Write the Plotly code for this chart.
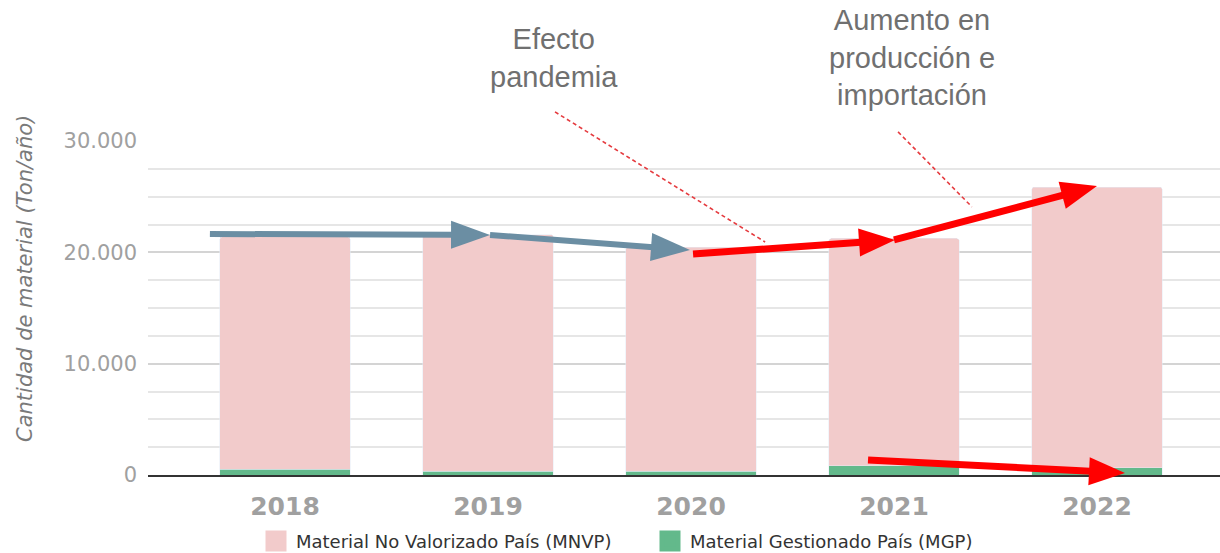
import math
import plotly.graph_objects as go

# ---- data ----
years = ["2018", "2019", "2020", "2021", "2022"]
mgp = [500, 330, 330, 840, 660]            # Material Gestionado País
totals = [21400, 21600, 20450, 21250, 25850]
mnvp = [t - g for t, g in zip(totals, mgp)]  # Material No Valorizado País

series_names = ["Material No Valorizado País (MNVP)", "Material Gestionado País (MGP)"]
y_tickvals = [0, 10000, 20000, 30000]

# ---- layout constants ----
W, H = 1220, 553
ML, MR, MT, MB = 148, 0, 141, 78
XR = [-0.675, 4.606]
YR = [0, 30000]
PW, PH = W - ML - MR, H - MT - MB

PINK = "#f2cbcb"
GREEN = "#63b98b"
GRAY_ARROW = "#6b8ea3"
RED = "#ff0000"


def to_paper(xd, yd):
    px = (xd - XR[0]) / (XR[1] - XR[0])
    py = (yd - YR[0]) / (YR[1] - YR[0])
    return px, py


def to_pix(xd, yd):
    px, py = to_paper(xd, yd)
    return px * PW, py * PH  # pixel offsets (y up)


def pix_to_paper(x, y):
    return x / PW, y / PH


fig = go.Figure()
fig.add_trace(go.Bar(x=years, y=mgp, name=series_names[1], marker_color=GREEN,
                     showlegend=False))
fig.add_trace(go.Bar(x=years, y=mnvp, name=series_names[0], marker_color=PINK,
                     showlegend=False))
# legend entries (bigger square swatches)
for nm, col in [(series_names[0], PINK), (series_names[1], GREEN)]:
    fig.add_trace(go.Scatter(x=[None], y=[None], mode="markers", name=nm,
                             marker=dict(symbol="square", size=16, color=col,
                                         line=dict(color=col, width=5))))

# ---- arrows (tail -> tip, in data coordinates) ----
arrows = [
    ((-0.37, 21650), (1.01, 21560), GRAY_ARROW, 6, 39, 14),
    ((1.01, 21560), (1.995, 20215), GRAY_ARROW, 6, 39, 14),
    ((2.01, 19855), (3.005, 21115), RED, 7, 36, 14),
    ((3.0, 21115), (4.0, 25950), RED, 7, 36, 14),
    ((2.872, 1347), (4.138, 180), RED, 7, 36, 14),
]
shapes = []
for (tx, ty), (hx, hy), col, w, hl, hw in arrows:
    x0, y0 = to_pix(tx, ty)
    x1, y1 = to_pix(hx, hy)
    d = math.hypot(x1 - x0, y1 - y0)
    ux, uy = (x1 - x0) / d, (y1 - y0) / d
    nx, ny = -uy, ux
    bx, by = x1 - ux * (hl - 2), y1 - uy * (hl - 2)
    p_t = pix_to_paper(x0, y0)
    p_b = pix_to_paper(bx, by)
    shapes.append(dict(type="line", xref="paper", yref="paper",
                       x0=p_t[0], y0=p_t[1], x1=p_b[0], y1=p_b[1],
                       line=dict(color=col, width=w)))
    hb_x, hb_y = x1 - ux * hl, y1 - uy * hl
    pts = [(x1, y1), (hb_x + nx * hw, hb_y + ny * hw), (hb_x - nx * hw, hb_y - ny * hw)]
    pp = [pix_to_paper(px, py) for px, py in pts]
    path = "M{:.5f},{:.5f} L{:.5f},{:.5f} L{:.5f},{:.5f} Z".format(
        pp[0][0], pp[0][1], pp[1][0], pp[1][1], pp[2][0], pp[2][1])
    shapes.append(dict(type="path", xref="paper", yref="paper", path=path,
                       fillcolor=col, line=dict(color=col, width=0)))

annotations = []
# ---- labels ----
annotations.append(dict(
    x=to_paper(1.323, 0)[0], y=1.0, xref="paper", yref="paper", yanchor="bottom",
    xanchor="center", text="Efecto<br>pandemia", showarrow=False, yshift=46,
    font=dict(family="Liberation Sans, Arial", size=29, color="#707070")))
annotations.append(dict(
    x=to_paper(3.088, 0)[0], y=1.0, xref="paper", yref="paper", yanchor="bottom",
    xanchor="center", text="Aumento en<br>producción e<br>importación", showarrow=False,
    yshift=28, font=dict(family="Liberation Sans, Arial", size=29, color="#707070")))
annotations.append(dict(
    x=-0.1147, y=0.587, xref="paper", yref="paper", textangle=-90,
    xanchor="center", yanchor="middle",
    text="<i>Cantidad de material (Ton/año)</i>", showarrow=False,
    font=dict(family="DejaVu Sans", size=21, color="#7a7a7a")))

# ---- dashed leader lines (data coords -> paper) ----
leaders = [((1.33, 32615), (2.365, 20930)), ((3.02, 30820), (3.384, 24080))]
for (x0, y0), (x1, y1) in leaders:
    p0 = to_paper(x0, y0)
    p1 = to_paper(x1, y1)
    shapes.append(dict(type="line", xref="paper", yref="paper",
                       x0=p0[0], y0=p0[1], x1=p1[0], y1=p1[1],
                       line=dict(color="#e53b3f", width=1.6, dash="4px,3px")))

fig.update_layout(
    width=W, height=H,
    margin=dict(l=ML, r=MR, t=MT, b=MB, pad=0, autoexpand=False),
    barmode="stack", bargap=0.355, barcornerradius=3,
    separators=",.",
    plot_bgcolor="white", paper_bgcolor="white",
    annotations=annotations, shapes=shapes,
    legend=dict(orientation="h", x=(256 - ML) / PW, xanchor="left",
                y=-0.143, yanchor="top", entrywidth=349, entrywidthmode="pixels",
                font=dict(family="DejaVu Sans", size=18, color="#333333"),
                traceorder="normal", itemsizing="trace"),
    xaxis=dict(range=XR, type="category", showline=True, linecolor="#333333", linewidth=2,
               ticks="", showgrid=False, fixedrange=True, ticklabelstandoff=8,
               tickfont=dict(family="DejaVu Sans", size=25, color="#a0a0a0", weight="bold")),
    yaxis=dict(range=YR, tickvals=y_tickvals, tickformat=",d", showgrid=True,
               gridcolor="#d4d4d4", gridwidth=1.5, zeroline=False, ticks="",
               ticklabelstandoff=10, fixedrange=True,
               minor=dict(dtick=2500, showgrid=True, gridcolor="#e6e6e6", gridwidth=1.5),
               tickfont=dict(family="DejaVu Sans", size=21, color="#a0a0a0")),
)

fig.write_html("out.html", config={"displayModeBar": False},
               post_script="document.body.style.margin='0px';document.body.style.overflow='hidden';")
